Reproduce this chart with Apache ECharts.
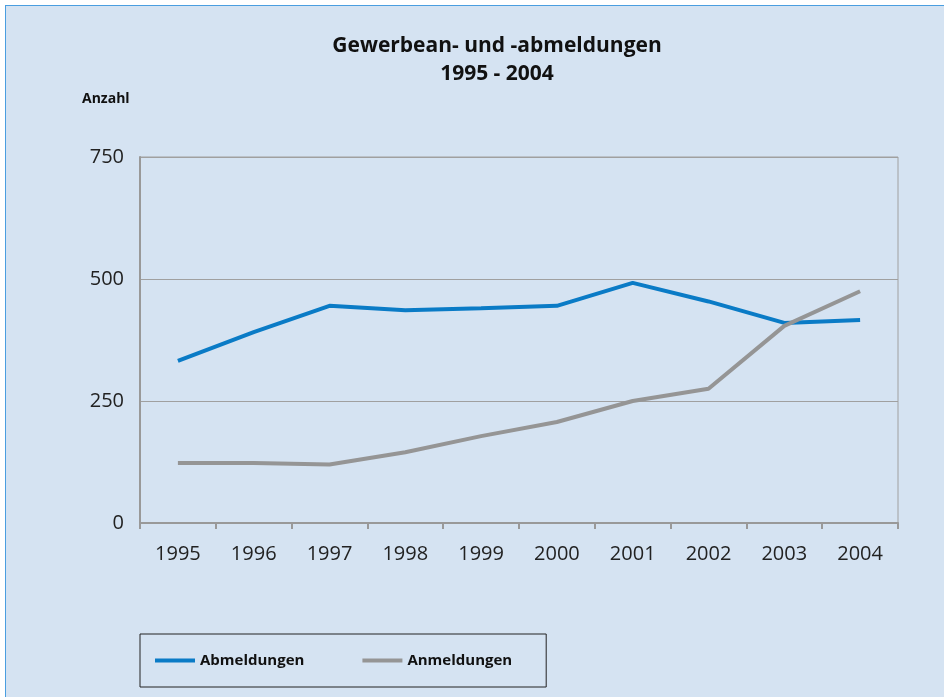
<!DOCTYPE html>
<html>
<head>
<meta charset="utf-8">
<script src="https://cdn.jsdelivr.net/npm/echarts@6/dist/echarts.min.js"></script>
<style>
  html, body { margin: 0; padding: 0; background: #ffffff; }
  #frame {
    position: absolute; left: 5px; top: 5px; width: 945px; height: 700px;
    background: #d5e3f2; border-left: 1px solid #4a9ee0; border-top: 1px solid #4a9ee0;
  }
  #chart { position: absolute; left: -6px; top: -6px; width: 944px; height: 697px; }
</style>
</head>
<body>
<div id="frame"><div id="chart"></div></div>
<script>
// Jahre
let years = ['1995', '1996', '1997', '1998', '1999', '2000', '2001', '2002', '2003', '2004'];
// Abmeldungen
let abmeldungen = [332, 391, 445, 436, 440, 445, 492, 454, 410, 416];
// Anmeldungen
let anmeldungen = [123, 123, 120, 145, 178, 207, 250, 275, 404, 475];
let yTicks = [0, 250, 500, 750];

let font = '"Open Sans", "DejaVu Sans", sans-serif';
let e1 = echarts.init(document.getElementById('chart'));
e1.setOption({
  backgroundColor: 'transparent',
  animation: false,
  title: {
    text: 'Gewerbean- und -abmeldungen\n1995 - 2004',
    left: 492, top: 27, textAlign: 'center',
    textStyle: {fontFamily: font, fontSize: 21, fontWeight: 'bold', color: '#111', lineHeight: 28}
  },
  graphic: [
    {type: 'text', left: 82, top: 92,
      style: {text: 'Anzahl', fontFamily: font, fontSize: 14, fontWeight: 'bold', fill: '#111'}}
  ],
  legend: {
    left: 140, top: 634, orient: 'horizontal',
    padding: [19, 34, 19, 15],
    borderColor: '#222', borderWidth: 1,
    itemWidth: 40, itemHeight: 4, itemGap: 58, icon: 'rect',
    textStyle: {fontFamily: font, fontSize: 15, fontWeight: 'bold', color: '#111'},
    data: ['Abmeldungen', 'Anmeldungen']
  },
  grid: {left: 140, right: 46, top: 157, bottom: 174, show: true, borderColor: '#a0a0a0', borderWidth: 1},
  xAxis: {
    type: 'category', data: years, boundaryGap: true,
    axisLine: {lineStyle: {color: '#999', width: 2}},
    axisTick: {show: true, length: 6, lineStyle: {color: '#999', width: 2}},
    axisLabel: {fontFamily: font, fontSize: 20, color: '#222', margin: 21}
  },
  yAxis: {
    type: 'value', min: 0, max: 750, interval: 250,
    axisLine: {show: true, lineStyle: {color: '#999', width: 2}},
    axisTick: {show: false},
    splitLine: {lineStyle: {color: '#a0a0a0', width: 1}},
    axisLabel: {fontFamily: font, fontSize: 20, color: '#222', margin: 16,
      formatter: function (v) { return yTicks.indexOf(v) >= 0 ? String(v) : ''; }}
  },
  series: [
    {name: 'Abmeldungen', type: 'line', data: abmeldungen, symbol: 'none',
      lineStyle: {color: '#0a7bc6', width: 4}, itemStyle: {color: '#0a7bc6'}},
    {name: 'Anmeldungen', type: 'line', data: anmeldungen, symbol: 'none',
      lineStyle: {color: '#959595', width: 4}, itemStyle: {color: '#959595'}}
  ]
});
</script>
</body>
</html>
